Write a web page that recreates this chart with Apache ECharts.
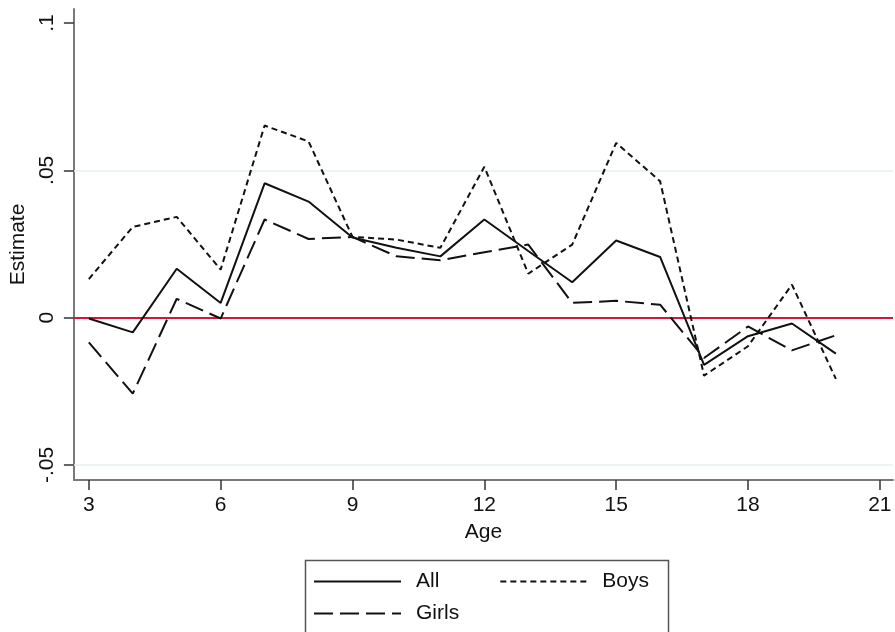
<!DOCTYPE html>
<html>
<head>
<meta charset="utf-8">
<script src="https://cdn.jsdelivr.net/npm/echarts@6/dist/echarts.min.js"></script>
<style>
html, body { margin: 0; padding: 0; background: #fff; }
#char { width: 895px; height: 632px; }
</style>
</head>
<body>
<div id="char"></div>
<script>
// values
var ages = [3, 4, 5, 6, 7, 8, 9, 10, 11, 12, 13, 14, 15, 16, 17, 18, 19, 20];
var allVals = [-0.0003, -0.005, 0.0166, 0.005, 0.0456, 0.0394, 0.0272, 0.0237, 0.0208, 0.0333, 0.0226, 0.012, 0.0262, 0.0206, -0.016, -0.0063, -0.002, -0.0122];
var girlsVals = [-0.0084, -0.0258, 0.0064, -0.0003, 0.0333, 0.0267, 0.0274, 0.0208, 0.0195, 0.0222, 0.0248, 0.005, 0.0057, 0.0044, -0.0137, -0.003, -0.0111, -0.006];
var boysVals = [0.0131, 0.0308, 0.0342, 0.0163, 0.0652, 0.0598, 0.0274, 0.0265, 0.0237, 0.0512, 0.0149, 0.0248, 0.0593, 0.0463, -0.0197, -0.0097, 0.0112, -0.0208];
var xTicks = [3, 6, 9, 12, 15, 18, 21];
var yTicks = [-0.05, 0, 0.05, 0.1];
var yTickText = ['-.05', '0', '.05', '.1'];

function pairs(vals) {
    var out = [];
    for (var i = 0; i < ages.length; i++) {
        out.push([ages[i], vals[i]]);
    }
    return out;
}

var font = "'Liberation Sans', Arial, sans-serif";
var ink = '#111';
var fs = 21;

var myChart = echarts.init(document.getElementById('char'));

var option = {
    animation: false,
    grid: { left: 73, right: 2, top: 9, bottom: 152 },
    xAxis: {
        type: 'value',
        min: 2.66,
        max: 21.3,
        name: 'Age',
        nameLocation: 'middle',
        nameGap: 42,
        nameTextStyle: { fontFamily: font, fontSize: fs, color: ink },
        axisLine: { onZero: false, lineStyle: { color: '#7a7a7a', width: 2 } },
        axisTick: { customValues: xTicks, length: 10, lineStyle: { color: '#333', width: 1.5 } },
        axisLabel: { customValues: xTicks, margin: 15, fontFamily: font, fontSize: fs, color: ink },
        splitLine: { show: false }
    },
    yAxis: {
        type: 'value',
        min: -0.0551,
        max: 0.10475,
        name: 'Estimate',
        nameLocation: 'middle',
        nameGap: 44,
        nameTextStyle: { fontFamily: font, fontSize: fs, color: ink },
        axisLine: { show: true, onZero: false, lineStyle: { color: '#7a7a7a', width: 2 } },
        axisTick: { show: true, customValues: yTicks, length: 10, lineStyle: { color: '#333', width: 1.5 } },
        axisLabel: {
            customValues: yTicks,
            rotate: 90,
            margin: 16,
            fontFamily: font,
            fontSize: fs,
            color: ink,
            formatter: function (v) {
                for (var i = 0; i < yTicks.length; i++) {
                    if (Math.abs(yTicks[i] - v) < 1e-9) return yTickText[i];
                }
                return '';
            }
        },
        splitLine: { show: false }
    },
    legend: [
        {
            data: ['All', 'Boys'],
            left: 313,
            top: 571,
            padding: 0,
            itemWidth: 87,
            itemHeight: 20,
            itemGap: 60,
            itemStyle: { opacity: 0 },
            textStyle: { fontFamily: font, fontSize: fs, color: ink, padding: [0, 0, 0, 10] }
        },
        {
            data: ['Girls'],
            left: 313,
            top: 603,
            padding: 0,
            itemWidth: 87,
            itemHeight: 20,
            itemStyle: { opacity: 0 },
            textStyle: { fontFamily: font, fontSize: fs, color: ink, padding: [0, 0, 0, 10] }
        }
    ],
    graphic: [
        {
            type: 'rect',
            left: 303,
            top: 558,
            shape: { width: 363, height: 100 },
            style: { fill: 'none', stroke: '#555', lineWidth: 1.5 }
        }
    ],
    series: [
        {
            name: 'All',
            type: 'line',
            data: pairs(allVals),
            symbol: 'none',
            z: 3,
            lineStyle: { color: '#111', width: 2, type: 'solid' },
            itemStyle: { color: '#111' },
            markLine: {
                silent: true,
                symbol: 'none',
                label: { show: false },
                z: 1,
                data: [
                    { yAxis: 0.05, lineStyle: { color: '#e4eff0', width: 1.5, type: 'solid' } },
                    { yAxis: -0.05, lineStyle: { color: '#e4eff0', width: 1.5, type: 'solid' } },
                    { yAxis: 0, lineStyle: { color: '#d81340', width: 2, type: 'solid' } }
                ]
            }
        },
        {
            name: 'Boys',
            type: 'line',
            data: pairs(boysVals),
            symbol: 'none',
            z: 3,
            lineStyle: { color: '#111', width: 2, type: [6, 4] },
            itemStyle: { color: '#111' }
        },
        {
            name: 'Girls',
            type: 'line',
            data: pairs(girlsVals),
            symbol: 'none',
            z: 3,
            lineStyle: { color: '#111', width: 2, type: [19, 7] },
            itemStyle: { color: '#111' }
        }
    ]
};
myChart.setOption(option);
</script>
</body>
</html>
